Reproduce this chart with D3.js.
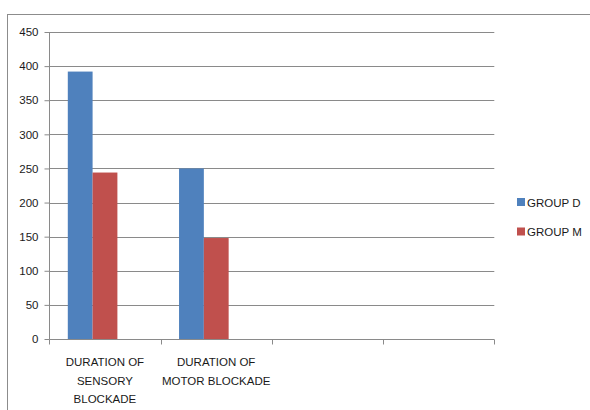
<!DOCTYPE html>
<html><head><meta charset="utf-8">
<script src="https://cdn.jsdelivr.net/npm/d3@7"></script>
<style>body{margin:0;background:#fff}svg{display:block}text{font-family:"Liberation Sans",Arial,sans-serif;fill:#1a1a1a}</style>
</head><body><svg id="c" width="590" height="410"></svg>
<script>
const categories = [["DURATION OF","SENSORY","BLOCKADE"],["DURATION OF","MOTOR BLOCKADE"],[""],[""]];
const catKeys = ["sensory","motor","c3","c4"];
const seriesNames = ["GROUP D","GROUP M"];
const groupD = [392, 250, null, null];
const groupM = [244, 148, null, null];
const yTicks = [0,50,100,150,200,250,300,350,400,450];
const colors = ["#4F81BD","#C0504D"];

(function(){
const svg = d3.select("#c");
const pL = 49.3, pR = 494.3, pT = 32, pB = 339;
svg.append("rect").attr("x",7.5).attr("y",14.5).attr("width",600).attr("height",420)
  .attr("fill","none").attr("stroke","#8c8c8c").attr("stroke-width",1);

const x = d3.scaleBand().domain(catKeys).range([pL,pR]);
const y = d3.scaleLinear().domain([0,450]).range([pB,pT]);

svg.append("g").selectAll("line").data(yTicks.filter(t=>t>0)).join("line")
  .attr("x1",pL).attr("x2",pR).attr("y1",d=>Math.round(y(d))+0.5).attr("y2",d=>Math.round(y(d))+0.5)
  .attr("stroke","#8a8a8a").attr("stroke-width",1);

const ya = svg.append("g").attr("transform",`translate(${Math.round(pL)+0.5},0)`)
  .call(d3.axisLeft(y).tickValues(yTicks).tickSize(5).tickPadding(6));
ya.select(".domain").attr("stroke","#8a8a8a").attr("d",`M0,${pT}V${pB}`);
ya.selectAll(".tick line").attr("stroke","#8a8a8a");
ya.selectAll(".tick text").attr("font-size","11.5px").attr("fill","#1a1a1a").attr("font-family","Liberation Sans, Arial, sans-serif");

const sub = d3.scaleBand().domain(seriesNames).range([0,x.bandwidth()]).paddingInner(0).paddingOuter(1.243).align(0.3);
const data = [];
catKeys.forEach((k,i)=>{ [groupD,groupM].forEach((s,j)=>{ if(s[i]!=null) data.push({k, s:seriesNames[j], v:s[i], c:colors[j]}); }); });
svg.append("g").selectAll("rect").data(data).join("rect")
  .attr("x",d=>x(d.k)+sub(d.s)).attr("width",sub.bandwidth())
  .attr("y",d=>y(d.v)).attr("height",d=>y(0)-y(d.v)).attr("fill",d=>d.c);

const xa = svg.append("g");
const yb = Math.round(pB)+0.5;
xa.append("line").attr("x1",pL).attr("x2",pR).attr("y1",yb).attr("y2",yb).attr("stroke","#8a8a8a");
const bounds = catKeys.map(k=>x(k)).concat([x(catKeys[catKeys.length-1])+x.bandwidth()]);
xa.selectAll("line.t").data(bounds).join("line").attr("class","t")
  .attr("x1",d=>Math.round(d)+0.5).attr("x2",d=>Math.round(d)+0.5).attr("y1",yb).attr("y2",yb+5).attr("stroke","#8a8a8a");
categories.forEach((lines,i)=>{
  const cx = x(catKeys[i]) + x.bandwidth()/2;
  lines.forEach((ln,j)=>{
    xa.append("text").attr("x",cx).attr("y",366+j*18.5).attr("text-anchor","middle")
      .attr("font-size","11.5px").text(ln);
  });
});

const lg = svg.append("g");
seriesNames.forEach((n,i)=>{
  lg.append("rect").attr("x",517).attr("y",198+i*29.5).attr("width",8).attr("height",8).attr("fill",colors[i]);
  lg.append("text").attr("x",527).attr("y",206.5+i*29.5).attr("font-size","11.5px").text(n);
});
})();
</script></body></html>
